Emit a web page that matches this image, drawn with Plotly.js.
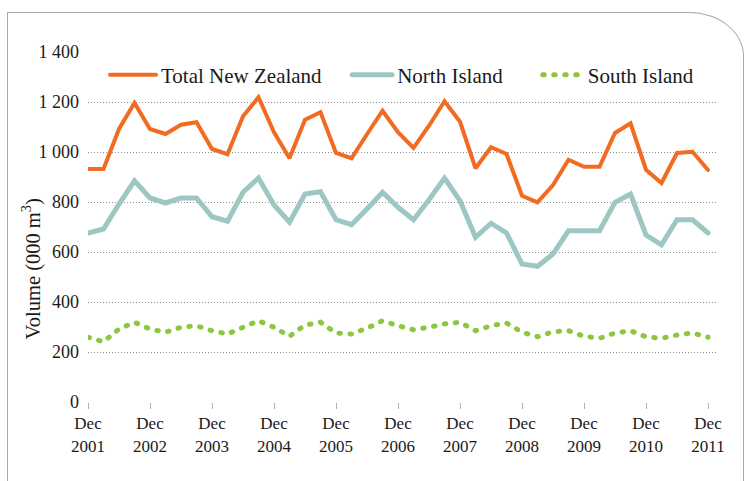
<!DOCTYPE html>
<html>
<head>
<meta charset="utf-8">
<script src="https://cdn.plot.ly/plotly-3.0.1.min.js"></script>
<style>
  html, body { margin: 0; padding: 0; background: #ffffff; overflow: hidden; }
  #frame { position: absolute; left: 7px; top: 12px; width: 735px; height: 600px;
           border: 1px solid #a8a8a8; border-top-right-radius: 55px 44px; box-sizing: content-box; }
  #chart { position: absolute; left: 0; top: 0; width: 744px; height: 481px; }
  path.js-line { stroke-linecap: round !important; }
</style>
</head>
<body>
<div id="frame"></div>
<div id="chart"></div>
<script>
const quarters = [
  "Dec 2001","Mar 2002","Jun 2002","Sep 2002","Dec 2002","Mar 2003","Jun 2003","Sep 2003",
  "Dec 2003","Mar 2004","Jun 2004","Sep 2004","Dec 2004","Mar 2005","Jun 2005","Sep 2005",
  "Dec 2005","Mar 2006","Jun 2006","Sep 2006","Dec 2006","Mar 2007","Jun 2007","Sep 2007",
  "Dec 2007","Mar 2008","Jun 2008","Sep 2008","Dec 2008","Mar 2009","Jun 2009","Sep 2009",
  "Dec 2009","Mar 2010","Jun 2010","Sep 2010","Dec 2010","Mar 2011","Jun 2011","Sep 2011",
  "Dec 2011"
];
const totalNZ = [932,932,1092,1196,1092,1072,1109,1119,1012,991,1143,1219,1079,975,1129,1159,
  996,975,1071,1165,1079,1016,1105,1203,1121,935,1019,992,825,799,868,969,941,941,1076,1115,
  929,876,996,1001,928];
const northIsland = [676,692,792,885,816,796,816,816,741,723,839,896,788,719,832,841,
  729,709,772,839,779,729,809,896,805,659,715,676,552,543,592,685,685,685,799,832,
  668,629,729,729,676];
const southIsland = [259,241,292,319,292,279,299,305,285,272,299,325,299,263,308,319,
  276,272,295,325,305,289,299,312,319,285,305,316,279,261,281,285,263,255,276,285,
  261,255,268,276,259];
const xTickVals = ["Dec 2001","Dec 2002","Dec 2003","Dec 2004","Dec 2005","Dec 2006",
  "Dec 2007","Dec 2008","Dec 2009","Dec 2010","Dec 2011"];
const xTickText = ["Dec<br>2001","Dec<br>2002","Dec<br>2003","Dec<br>2004","Dec<br>2005",
  "Dec<br>2006","Dec<br>2007","Dec<br>2008","Dec<br>2009","Dec<br>2010","Dec<br>2011"];
const yTickVals = [0,200,400,600,800,1000,1200,1400];
const yTickText = ["0","200","400","600","800","1 000","1 200","1 400"];

const FONT = "'Liberation Serif', 'DejaVu Serif', serif";

const traces = [
  { x: quarters, y: southIsland, name: "South Island", type: "scatter", mode: "lines",
    line: { color: "#8dc63f", width: 5, dash: "1.5px,9.5px" }, legend: "legend3" },
  { x: quarters, y: northIsland, name: "North Island", type: "scatter", mode: "lines",
    line: { color: "#9dc7c3", width: 5 }, legend: "legend2" },
  { x: quarters, y: totalNZ, name: "Total New Zealand", type: "scatter", mode: "lines",
    line: { color: "#f26b22", width: 4 }, legend: "legend" }
];

const legendBase = {
  orientation: "h", yanchor: "middle", y: 0.934, xanchor: "left",
  bgcolor: "rgba(0,0,0,0)", font: { family: FONT, size: 21, color: "#1a1a1a" },
  itemwidth: 40, tracegroupgap: 0
};

const layout = {
  width: 744, height: 481,
  margin: { l: 88, r: 27, t: 52, b: 79 },
  paper_bgcolor: "rgba(0,0,0,0)", plot_bgcolor: "rgba(0,0,0,0)",
  font: { family: FONT, size: 16, color: "#1a1a1a" },
  showlegend: true,
  legend: Object.assign({}, legendBase, { x: 0.027, itemwidth: 46 }),
  legend2: Object.assign({}, legendBase, { x: 0.412 }),
  legend3: Object.assign({}, legendBase, { x: 0.715 }),
  xaxis: {
    type: "category", range: [0, 40.58], showgrid: false, zeroline: false, showline: false,
    tickmode: "array", tickvals: xTickVals, ticktext: xTickText,
    ticks: "outside", ticklen: 6, tickcolor: "#b0b0b0", tickwidth: 1,
    tickfont: { family: FONT, size: 17, color: "#1a1a1a" }, tickangle: 0
  },
  yaxis: {
    range: [0, 1400], tickmode: "array", tickvals: yTickVals, ticktext: yTickText,
    showgrid: true, gridcolor: "#8f8f8f", gridwidth: 1, griddash: "1px,2px",
    zeroline: false, showline: false, ticks: "", ticklabelstandoff: 8,
    tickfont: { family: FONT, size: 18, color: "#1a1a1a" }
  },
  annotations: [{
    text: "Volume (000 m<sup>3</sup>)", textangle: -90, showarrow: false,
    xref: "paper", yref: "paper", x: -0.09, y: 0.38, xanchor: "center", yanchor: "middle",
    font: { family: FONT, size: 20.5, color: "#1a1a1a" }
  }]
};

Plotly.newPlot("chart", traces, layout, { displayModeBar: false, staticPlot: true });
</script>
</body>
</html>
